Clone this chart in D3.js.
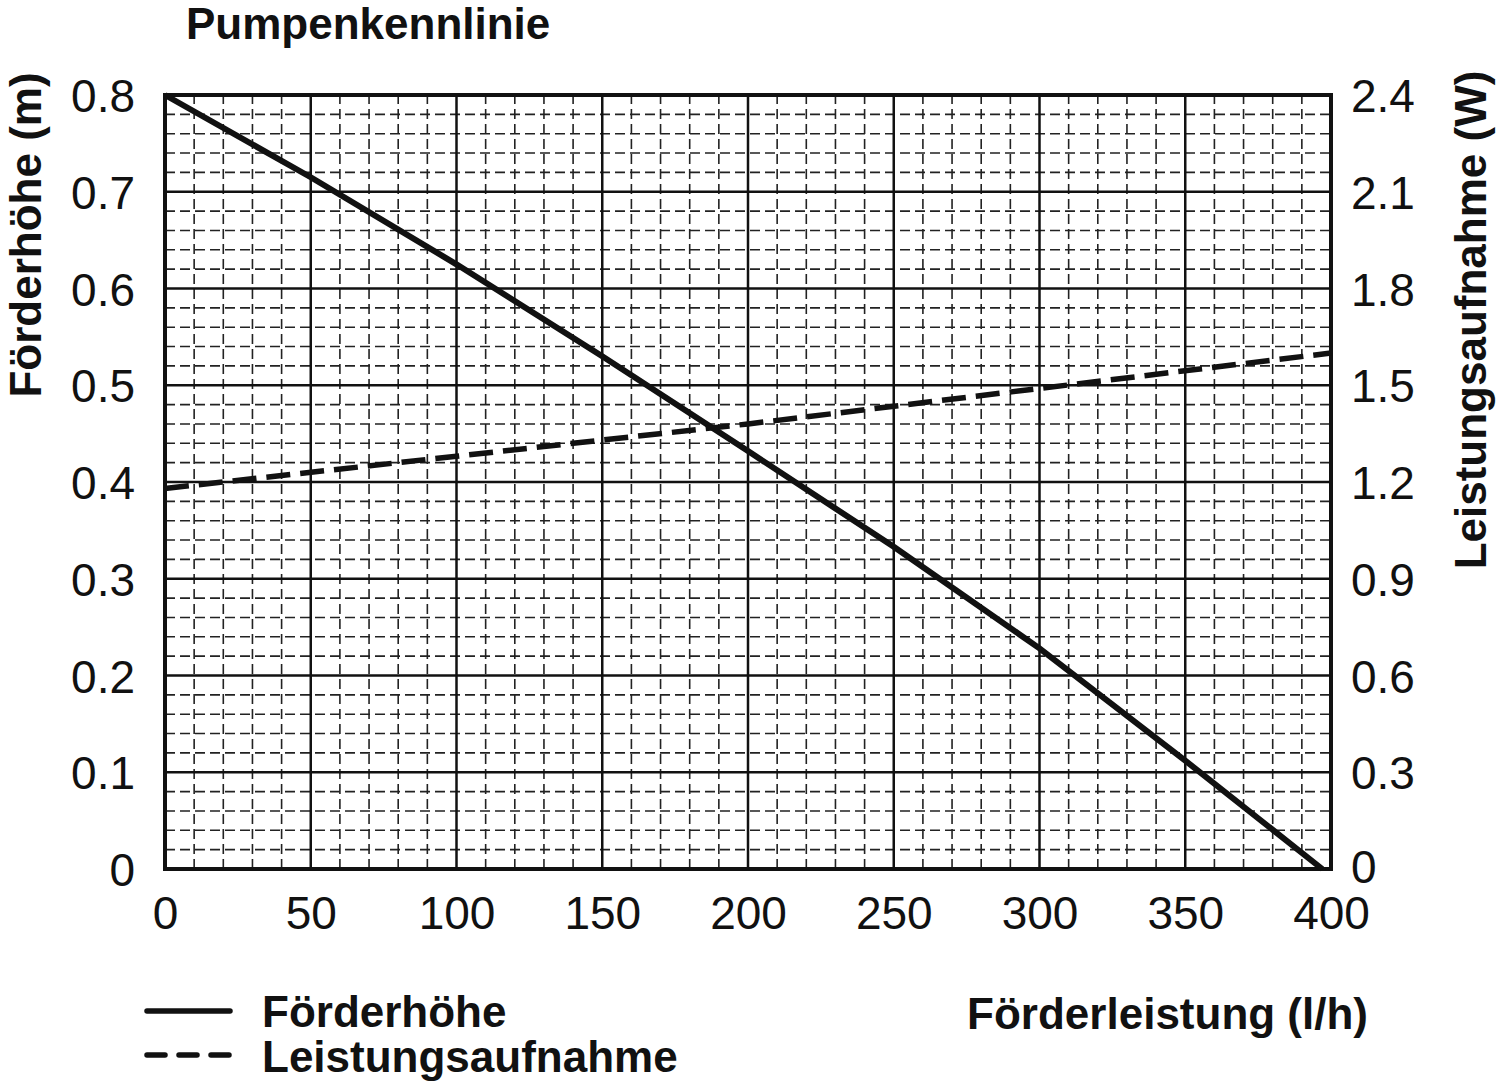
<!DOCTYPE html>
<html>
<head>
<meta charset="utf-8">
<script src="https://cdn.jsdelivr.net/npm/d3@7"></script>
<style>
  body { margin: 0; background: #fff; }
  .tick-label { font-family: "Liberation Sans", Arial, sans-serif; font-size: 46px; fill: #111; }
  .bold-label { font-family: "Liberation Sans Narrow", "Liberation Sans", Arial, sans-serif; font-weight: bold; font-size: 44px; fill: #111; }
</style>
</head>
<body>
<div id="chart"></div>
<script>
// Förderleistung (l/h) vs Förderhöhe (m)
const flow = [0, 50, 100, 150, 200, 250, 300, 350, 397];
const head = [0.80, 0.715, 0.625, 0.53, 0.432, 0.333, 0.228, 0.112, 0];
// Förderleistung (l/h) vs Leistungsaufnahme (W)
const flowPower = [0, 100, 200, 300, 400];
const power = [1.18, 1.28, 1.38, 1.49, 1.60];

const xTicks = [0, 50, 100, 150, 200, 250, 300, 350, 400];
const yTicks = [0, 0.1, 0.2, 0.3, 0.4, 0.5, 0.6, 0.7, 0.8];
const y2Ticks = [0, 0.3, 0.6, 0.9, 1.2, 1.5, 1.8, 2.1, 2.4];

const width = 1500, height = 1088;
const margin = { top: 95, right: 169, bottom: 219, left: 165 };

const svg = d3.select('#chart').append('svg')
    .attr('width', width)
    .attr('height', height);

const x = d3.scaleLinear().domain([0, 400]).range([margin.left, width - margin.right]);
const y = d3.scaleLinear().domain([0, 0.8]).range([height - margin.bottom, margin.top]);
const y2 = d3.scaleLinear().domain([0, 2.4]).range([height - margin.bottom, margin.top]);

// minor grid (dashed), every 10 l/h and 0.02 m
const minorX = d3.range(0, 401, 10).filter(v => v % 50 !== 0);
const minorY = d3.range(0, 41).map(i => i * 0.02).filter((v, i) => i % 5 !== 0);

const grid = svg.append('g');
grid.selectAll('line.minorx')
    .data(minorX)
    .enter()
    .append('line')
    .attr('x1', d => x(d)).attr('x2', d => x(d))
    .attr('y1', y(0)).attr('y2', y(0.8))
    .attr('stroke', '#222').attr('stroke-width', 1.6)
    .attr('stroke-dasharray', '10,5');
grid.selectAll('line.minory')
    .data(minorY)
    .enter()
    .append('line')
    .attr('x1', x(0)).attr('x2', x(400))
    .attr('y1', d => y(d)).attr('y2', d => y(d))
    .attr('stroke', '#222').attr('stroke-width', 1.6)
    .attr('stroke-dasharray', '10,5');

// major grid
grid.selectAll('line.majorx')
    .data(xTicks)
    .enter()
    .append('line')
    .attr('x1', d => x(d)).attr('x2', d => x(d))
    .attr('y1', y(0)).attr('y2', y(0.8))
    .attr('stroke', '#111').attr('stroke-width', 2.5);
grid.selectAll('line.majory')
    .data(yTicks)
    .enter()
    .append('line')
    .attr('x1', x(0)).attr('x2', x(400))
    .attr('y1', d => y(d)).attr('y2', d => y(d))
    .attr('stroke', '#111').attr('stroke-width', 2.5);

// frame
svg.append('rect')
    .attr('x', x(0)).attr('y', y(0.8))
    .attr('width', x(400) - x(0)).attr('height', y(0) - y(0.8))
    .attr('fill', 'none').attr('stroke', '#111').attr('stroke-width', 4);

// axes
const xAxis = svg.append('g')
    .attr('transform', `translate(0, ${y(0)})`)
    .call(d3.axisBottom(x).tickValues(xTicks).tickSize(0).tickPadding(27).tickFormat(d3.format('d')));
const yAxis = svg.append('g')
    .attr('transform', `translate(${x(0) - 30}, 0)`)
    .call(d3.axisLeft(y).tickValues(yTicks).tickSize(0).tickPadding(0).tickFormat(d => d === 0 ? '0' : d3.format('.1f')(d)));
const y2Axis = svg.append('g')
    .attr('transform', `translate(${x(400) + 20}, 0)`)
    .call(d3.axisRight(y2).tickValues(y2Ticks).tickSize(0).tickPadding(0).tickFormat(d => d === 0 ? '0' : d3.format('.1f')(d)));

[xAxis, yAxis, y2Axis].forEach(a => {
    a.select('.domain').remove();
    a.selectAll('text').attr('class', 'tick-label').attr('fill', null);
    a.attr('font-size', null).attr('font-family', null);
});
yAxis.selectAll('text').attr('dy', '0.36em');
y2Axis.selectAll('text').attr('dy', d => d === 0 ? '0.3em' : '0.36em');
xAxis.selectAll('text').attr('dy', '0.71em');

// series
const lineHead = d3.line()
    .x((d, i) => x(flow[i]))
    .y(d => y(d));
svg.append('path')
    .datum(head)
    .attr('d', lineHead)
    .attr('fill', 'none').attr('stroke', '#111').attr('stroke-width', 6);

const linePower = d3.line()
    .x((d, i) => x(flowPower[i]))
    .y(d => y2(d));
svg.append('path')
    .datum(power)
    .attr('d', linePower)
    .attr('fill', 'none').attr('stroke', '#111').attr('stroke-width', 5.5)
    .attr('stroke-dasharray', '24,10');

// titles
svg.append('text')
    .attr('class', 'bold-label')
    .attr('x', 186).attr('y', 39)
    .text('Pumpenkennlinie');

svg.append('text')
    .attr('class', 'bold-label')
    .attr('transform', `translate(41, ${235}) rotate(-90)`)
    .attr('text-anchor', 'middle')
    .text('Förderhöhe (m)');

svg.append('text')
    .attr('class', 'bold-label')
    .attr('transform', `translate(1486, ${320}) rotate(-90)`)
    .attr('text-anchor', 'middle')
    .text('Leistungsaufnahme (W)');

svg.append('text')
    .attr('class', 'bold-label')
    .attr('x', 1368).attr('y', 1029)
    .attr('text-anchor', 'end')
    .text('Förderleistung (l/h)');

// legend
const legend = svg.append('g');
legend.append('line')
    .attr('x1', 147).attr('x2', 230).attr('y1', 1011).attr('y2', 1011)
    .attr('stroke', '#111').attr('stroke-width', 5.5).attr('stroke-linecap', 'round');
legend.append('text')
    .attr('class', 'bold-label')
    .attr('x', 262).attr('y', 1027)
    .text('Förderhöhe');
legend.append('line')
    .attr('x1', 147).attr('x2', 230).attr('y1', 1055).attr('y2', 1055)
    .attr('stroke', '#111').attr('stroke-width', 5.5).attr('stroke-linecap', 'round')
    .attr('stroke-dasharray', '18,14');
legend.append('text')
    .attr('class', 'bold-label')
    .attr('x', 262).attr('y', 1072)
    .text('Leistungsaufnahme');
</script>
</body>
</html>
